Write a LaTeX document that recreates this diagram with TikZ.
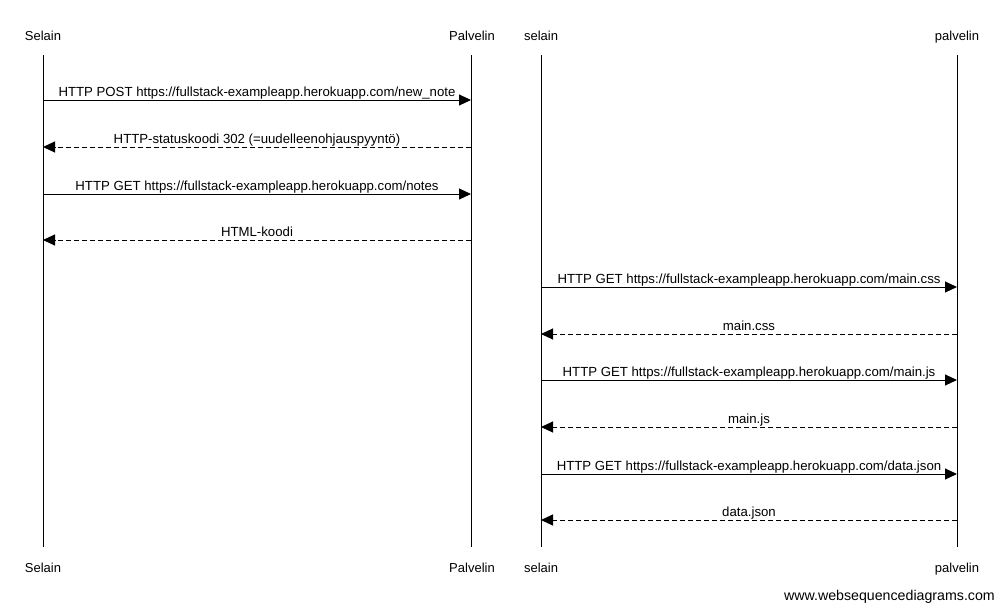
\documentclass[tikz,border=0pt]{standalone}
\usepackage{fontspec}
\setmainfont{Liberation Sans}
\usetikzlibrary{positioning, arrows.meta}

\tikzset{
  actor/.style={font=\fontsize{13}{15}\selectfont, inner sep=0pt, anchor=base},
  life/.style={draw=black, line width=1pt},
  req/.style={draw=black, line width=1pt, -{Triangle[length=12pt,width=11pt]}},
  resp/.style={req, dash pattern=on 5pt off 3pt},
  msg/.style={font=\fontsize{13.2}{15}\selectfont, inner sep=0pt, anchor=base, yshift=4pt}
}

\begin{document}
\begin{tikzpicture}[x=1pt, y=-1pt]
    \useasboundingbox (0,0) rectangle (1004,611);
    % participants, top and bottom
    \node [actor] (s1top) at (43,40)  {Selain};
    \node [actor] (p1top) at (472,40) {Palvelin};
    \node [actor] (s2top) at (541,40) {selain};
    \node [actor] (p2top) at (957,40) {palvelin};
    \node [actor] (s1bot) at (43,572)  {Selain};
    \node [actor] (p1bot) at (472,572) {Palvelin};
    \node [actor] (s2bot) at (541,572) {selain};
    \node [actor] (p2bot) at (957,572) {palvelin};
    % lifelines
    \foreach \n/\x in {s1/43, p1/471, s2/541, p2/957} {
        \coordinate (\n a) at (\x,55);
        \coordinate (\n b) at (\x,547);
        \draw [life] (\n a) -- (\n b);
    }
    % message ends
    \foreach \i/\y in {1/100, 2/147, 3/194, 4/240} {
        \coordinate (s\i) at (43,\y);
        \coordinate (p\i) at (471,\y);
    }
    \foreach \i/\y in {5/287, 6/334, 7/380, 8/427, 9/474, 10/520} {
        \coordinate (s\i) at (541,\y);
        \coordinate (p\i) at (957,\y);
    }
    % first diagram
    \draw [req]  (s1) -- node [msg] {HTTP POST https://fullstack-exampleapp.herokuapp.com/new\_note} (p1);
    \draw [resp] (p2) -- node [msg] {HTTP-statuskoodi 302 (=uudelleenohjauspyyntö)} (s2);
    \draw [req]  (s3) -- node [msg] {HTTP GET https://fullstack-exampleapp.herokuapp.com/notes} (p3);
    \draw [resp] (p4) -- node [msg] {HTML-koodi} (s4);
    % second diagram
    \draw [req]  (s5) -- node [msg] {HTTP GET https://fullstack-exampleapp.herokuapp.com/main.css} (p5);
    \draw [resp] (p6) -- node [msg] {main.css} (s6);
    \draw [req]  (s7) -- node [msg] {HTTP GET https://fullstack-exampleapp.herokuapp.com/main.js} (p7);
    \draw [resp] (p8) -- node [msg] {main.js} (s8);
    \draw [req]  (s9) -- node [msg] {HTTP GET https://fullstack-exampleapp.herokuapp.com/data.json} (p9);
    \draw [resp] (p10) -- node [msg] {data.json} (s10);
    % watermark
    \node [actor, font=\fontsize{14.2}{16}\selectfont, anchor=base east] (wsd) at (995,600) {www.websequencediagrams.com};
\end{tikzpicture}
\end{document}
